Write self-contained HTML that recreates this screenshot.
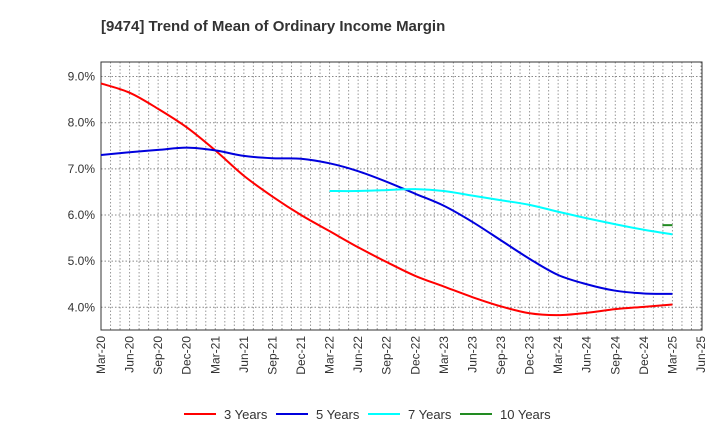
<!DOCTYPE html>
<html><head><meta charset="utf-8"><style>
body{margin:0;background:#fff;font-family:"Liberation Sans",sans-serif}
</style></head><body>
<svg id="c" width="720" height="440" xmlns="http://www.w3.org/2000/svg" font-family="Liberation Sans, sans-serif">
<text x="101" y="31" font-size="15" font-weight="bold" fill="#333">[9474]  Trend of Mean of Ordinary Income Margin</text>
</svg>
<script>
const xLabels=["Mar-20","Jun-20","Sep-20","Dec-20","Mar-21","Jun-21","Sep-21","Dec-21","Mar-22","Jun-22","Sep-22","Dec-22","Mar-23","Jun-23","Sep-23","Dec-23","Mar-24","Jun-24","Sep-24","Dec-24","Mar-25","Jun-25"];
const yTicks=[4,5,6,7,8,9];
const y3=[8.85,8.65,8.3,7.9,7.4,6.85,6.4,6.0,5.65,5.3,4.98,4.68,4.45,4.22,4.02,3.87,3.83,3.88,3.96,4.01,4.06];
const y5=[7.30,7.36,7.41,7.46,7.40,7.28,7.23,7.22,7.12,6.95,6.72,6.46,6.20,5.85,5.45,5.05,4.70,4.50,4.36,4.30,4.29];
const y7=[null,null,null,null,null,null,null,null,6.52,6.52,6.54,6.56,6.52,6.42,6.32,6.22,6.07,5.93,5.80,5.68,5.58];
const y10=[null,null,null,null,null,null,null,null,null,null,null,null,null,null,null,null,null,null,null,null,5.78];
const L=101,R=702,T=62,B=330;
const X=q=>L+q*(600/21);
const Y=v=>307.3-(v-4)*46.15;
const svg=document.getElementById('c');
const NS="http://www.w3.org/2000/svg";
function mk(t,a,p){const e=document.createElementNS(NS,t);for(const k in a)e.setAttribute(k,a[k]);(p||svg).appendChild(e);return e;}
const grid=mk('g',{});


for(let m=1;m<=63;m++){const x=L+m*600/63;mk('line',{x1:x,x2:x,y1:T,y2:B,stroke:'#999','stroke-width':1,'stroke-dasharray':'1.5,2'},grid);}
yTicks.forEach(v=>{mk('line',{x1:L,x2:R,y1:Y(v),y2:Y(v),stroke:'#888','stroke-width':1,'stroke-dasharray':'1.5,2'},grid);
const t=mk('text',{x:L-6,y:Y(v)+4,'font-size':12,'text-anchor':'end',fill:'#333'});t.textContent=v.toFixed(1)+'%';

});
const fr=mk('rect',{x:L,y:T,width:R-L,height:B-T,fill:'none',stroke:'#333','stroke-width':1});


xLabels.forEach((s,i)=>{const x=X(i);const t=mk('text',{x:x+4,y:B+6,'font-size':12,'text-anchor':'end',fill:'#333',transform:`rotate(-90 ${x+4} ${B+6})`});t.textContent=s;

});
function path(arr){const p=[];arr.forEach((v,i)=>{if(v!=null)p.push([X(i),Y(v)]);});
if(p.length===1)return `M${p[0][0]-10},${p[0][1]}L${p[0][0]},${p[0][1]}`;
let d=`M${p[0][0]},${p[0][1]}`;
for(let i=0;i<p.length-1;i++){const p0=p[i-1]||p[i],p1=p[i],p2=p[i+1],p3=p[i+2]||p2;
d+=`C${p1[0]+(p2[0]-p0[0])/6},${p1[1]+(p2[1]-p0[1])/6} ${p2[0]-(p3[0]-p1[0])/6},${p2[1]-(p3[1]-p1[1])/6} ${p2[0]},${p2[1]}`;}
return d;}
const series=[[y3,'#ff0000','3 Years','line-3-years'],[y5,'#0000dd','5 Years','line-5-years'],[y7,'#00ffff','7 Years','line-7-years'],[y10,'#228b22','10 Years','line-10-years']];
series.forEach(s=>{const e=mk('path',{d:path(s[0]),fill:'none',stroke:s[1],'stroke-width':2});

});
const lx=[184,276,368,460];
series.forEach((s,i)=>{const g=mk('g',{});


mk('line',{x1:lx[i],x2:lx[i]+32,y1:414,y2:414,stroke:s[1],'stroke-width':2},g);
const t=mk('text',{x:lx[i]+40,y:419,'font-size':13,fill:'#333'},g);t.textContent=s[2];});
</script>
</body></html>
